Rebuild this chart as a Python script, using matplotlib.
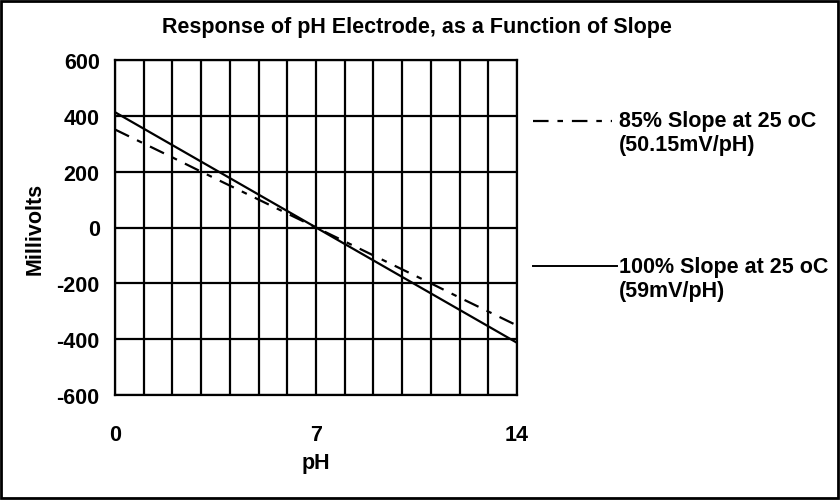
import matplotlib.pyplot as plt
from matplotlib.lines import Line2D
from matplotlib.patches import Rectangle

plt.rcParams['font.family'] = ['Liberation Sans', 'DejaVu Sans']
plt.rcParams['font.weight'] = 'bold'
plt.rcParams['axes.unicode_minus'] = False

# pH values and electrode response (mV)
ph = [0, 1, 2, 3, 4, 5, 6, 7, 8, 9, 10, 11, 12, 13, 14]
mv_100 = [413, 354, 295, 236, 177, 118, 59, 0, -59, -118, -177, -236, -295, -354, -413]
mv_85 = [351, 301, 251, 200, 150, 100, 50, 0, -50, -100, -150, -200, -251, -301, -351]

label_85 = ['85% Slope at 25 oC', '(50.15mV/pH)']
label_100 = ['100% Slope at 25 oC', '(59mV/pH)']
title = 'Response of pH Electrode, as a Function of Slope'

W, H = 840, 502
FS = 15.5
dash = (0, (7, 4, 2.5, 4))

fig = plt.figure(figsize=(W / 100, H / 100), dpi=100)
ax = fig.add_axes([115 / W, 1 - 396 / H, 402 / W, 335 / H])

ax.plot(ph, mv_85, color='black', lw=1.6, linestyle=dash)
ax.plot(ph, mv_100, color='black', lw=1.6)

ax.set_xlim(0, 14)
ax.set_ylim(-600, 600)
ax.set_xticks(range(0, 15))
ax.set_xticklabels(['0', '', '', '', '', '', '', '7', '', '', '', '', '', '', '14'])
ax.set_yticks(range(-600, 601, 200))
ax.grid(True, color='black', lw=1.6)
ax.tick_params(length=0, labelsize=FS)
ax.tick_params(axis='x', pad=21)
ax.tick_params(axis='y', pad=11)
for s in ax.spines.values():
    s.set_linewidth(1.6)

ax.set_xlabel('pH', fontsize=FS, fontweight='bold', labelpad=5)
ax.set_ylabel('Millivolts', fontsize=FS, fontweight='bold', labelpad=8)
fig.text(417 / W, 1 - 27 / H, title, ha='center', va='center', fontsize=FS, fontweight='bold')

# legend drawn at the right side
fig.add_artist(Line2D([533 / W, 612 / W], [1 - 122 / H] * 2, color='black', lw=1.6,
                      linestyle=dash))
fig.add_artist(Line2D([533 / W, 617 / W], [1 - 267 / H] * 2, color='black', lw=1.4))
for lines, y0 in [(label_85, 122), (label_100, 268)]:
    for i, txt in enumerate(lines):
        fig.text(619 / W, 1 - (y0 + 24 * i) / H, txt, ha='left', va='center',
                 fontsize=FS, fontweight='bold')

fig.add_artist(Rectangle((1 / W, 3 / H), 837 / W, 497 / H, fill=False, edgecolor='black',
                         lw=2, transform=fig.transFigure))

fig.savefig('out.png', dpi=100)
